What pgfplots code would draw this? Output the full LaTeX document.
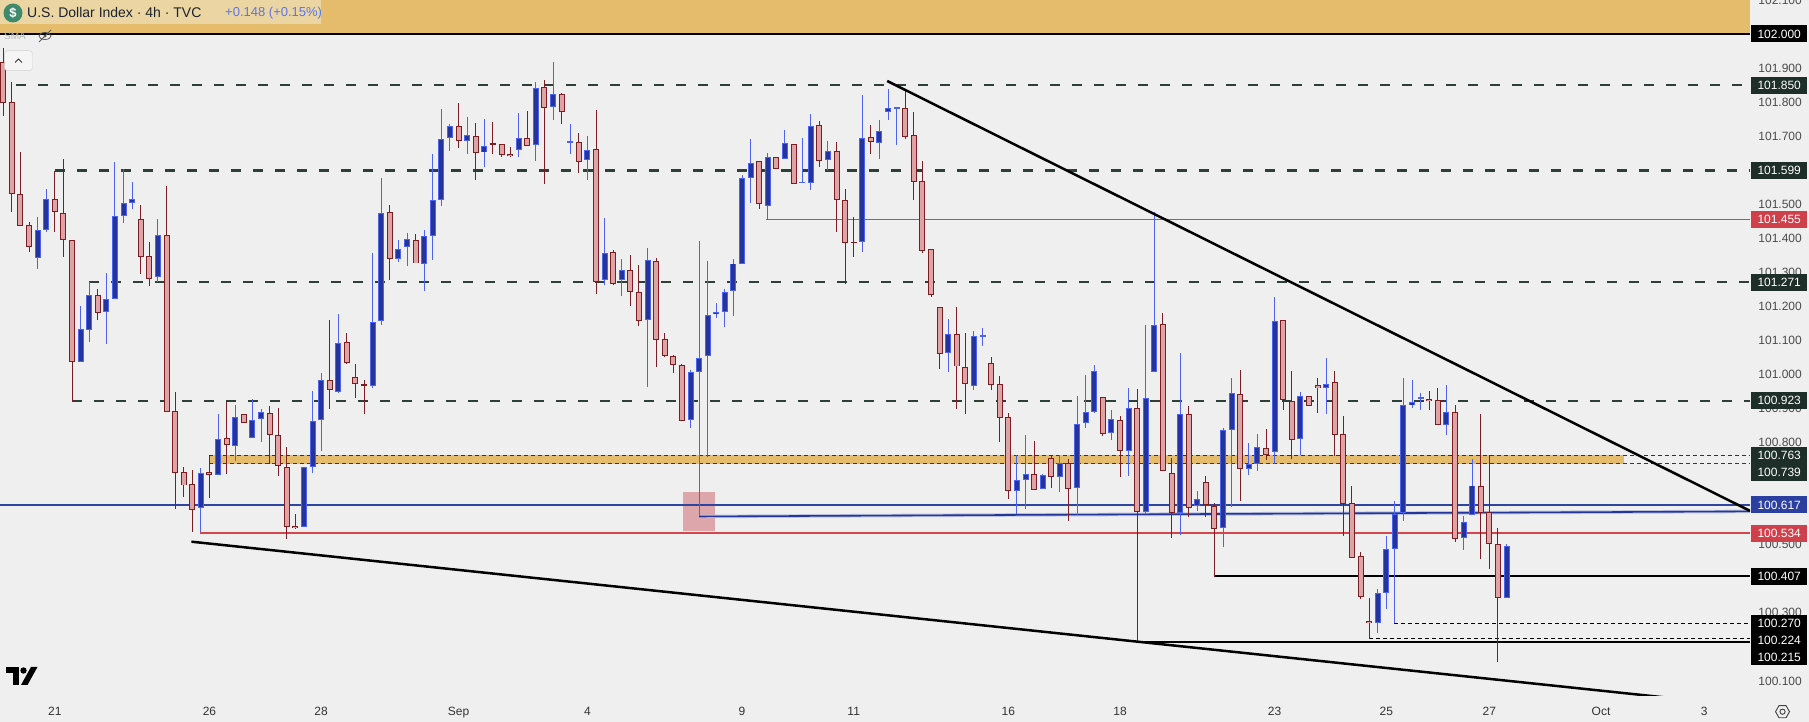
\documentclass[border=0pt]{standalone}
\usepackage{fontspec}
\setmainfont{Liberation Sans}
\usepackage{pgfplots}
\usepackage{pgfplotstable}
\pgfplotsset{compat=1.18}
\definecolor{bg}{HTML}{EFEFEF}
\definecolor{band}{HTML}{E5BC6B}
\definecolor{hdr}{HTML}{EBD6A3}
\definecolor{hdrgreen}{HTML}{3F8A6C}
\definecolor{hdrtext}{HTML}{1E222D}
\definecolor{chg}{HTML}{5C74EA}
\definecolor{bullfill}{HTML}{24349C}
\definecolor{bulledge}{HTML}{4A64F0}
\definecolor{bearfill}{HTML}{E0A3A5}
\definecolor{bearedge}{HTML}{7A1E22}
\definecolor{lvl}{HTML}{2E3F38}
\definecolor{lvlbox}{HTML}{1E2E28}
\definecolor{bline}{HTML}{2F46A0}
\definecolor{bline2}{HTML}{25369A}
\definecolor{bhalo}{HTML}{B9C1DE}
\definecolor{rline}{HTML}{D4454C}
\definecolor{rbox}{HTML}{D0404A}
\definecolor{bbox}{HTML}{2B3FA0}
\definecolor{pinkrect}{HTML}{DDA6AA}
\definecolor{ticktxt}{HTML}{4A4A4A}
\definecolor{timetxt}{HTML}{333333}

\pgfplotstableread{
i o h l c
4 101.344 101.462 101.310 101.425
5 101.425 101.544 101.418 101.516
9 101.038 101.201 101.038 101.135
10 101.132 101.272 101.094 101.234
12 101.185 101.297 101.090 101.223
13 101.223 101.624 101.223 101.467
14 101.467 101.605 101.446 101.505
15 101.505 101.565 101.486 101.516
18 101.287 101.456 101.272 101.411
23 100.607 100.725 100.536 100.710
25 100.707 100.885 100.704 100.812
27 100.792 100.910 100.746 100.877
29 100.815 100.927 100.815 100.867
30 100.870 100.898 100.803 100.890
35 100.551 100.728 100.551 100.728
36 100.728 100.953 100.710 100.863
37 100.868 101.004 100.774 100.984
39 100.950 101.178 100.946 101.092
43 100.967 101.356 100.959 101.156
44 101.159 101.576 101.146 101.476
46 101.341 101.394 101.331 101.371
47 101.376 101.415 101.319 101.399
49 101.325 101.423 101.245 101.408
50 101.408 101.647 101.336 101.513
51 101.513 101.781 101.494 101.692
52 101.695 101.735 101.657 101.731
54 101.687 101.755 101.647 101.703
56 101.652 101.749 101.609 101.672
60 101.660 101.767 101.638 101.695
62 101.675 101.858 101.626 101.843
64 101.786 101.917 101.747 101.823
66 101.683 101.735 101.647 101.685
68 101.631 101.699 101.570 101.660
70 101.280 101.459 101.264 101.358
72 101.279 101.338 101.231 101.308
75 101.159 101.371 100.964 101.335
80 100.868 101.012 100.842 101.009
81 101.007 101.393 100.583 101.050
82 101.056 101.333 100.759 101.175
83 101.176 101.211 101.165 101.183
84 101.185 101.250 101.140 101.244
85 101.247 101.338 101.173 101.327
86 101.325 101.587 101.325 101.580
87 101.580 101.693 101.504 101.623
89 101.496 101.650 101.454 101.639
91 101.634 101.719 101.634 101.681
93 101.563 101.695 101.561 101.565
94 101.564 101.764 101.543 101.731
96 101.631 101.686 101.597 101.658
100 101.390 101.820 101.360 101.695
102 101.681 101.747 101.632 101.717
103 101.772 101.838 101.747 101.783
104 101.784 101.786 101.674 101.786
110 101.062 101.162 101.007 101.117
113 100.969 101.128 100.954 101.114
114 101.113 101.138 101.083 101.115
118 100.660 100.763 100.590 100.690
119 100.693 100.823 100.604 100.710
121 100.663 100.708 100.663 100.705
123 100.699 100.763 100.655 100.740
125 100.666 100.938 100.587 100.855
126 100.858 100.999 100.843 100.890
127 100.893 101.029 100.887 101.011
129 100.828 100.895 100.807 100.869
131 100.775 100.961 100.702 100.902
133 100.596 101.146 100.590 100.931
134 101.008 101.476 101.008 101.146
137 100.593 101.064 100.530 100.884
139 100.613 100.657 100.599 100.634
142 100.551 100.843 100.493 100.837
143 100.837 100.990 100.610 100.946
145 100.722 100.799 100.705 100.737
146 100.737 100.825 100.716 100.787
148 100.772 101.228 100.737 101.158
151 100.811 100.949 100.763 100.937
154 100.961 101.049 100.884 100.972
160 100.269 100.369 100.241 100.357
161 100.360 100.525 100.310 100.487
162 100.490 100.628 100.269 100.593
163 100.596 100.990 100.569 100.911
164 100.911 100.983 100.902 100.919
165 100.930 100.946 100.896 100.932
168 100.852 100.970 100.822 100.890
170 100.519 100.584 100.484 100.566
171 100.587 100.752 100.587 100.675
175 100.346 100.502 100.346 100.496
}\bull

\pgfplotstableread{
i o h l c
0 101.917 101.959 101.759 101.797
1 101.801 101.858 101.477 101.532
2 101.532 101.653 101.437 101.437
3 101.441 101.449 101.361 101.376
6 101.516 101.598 101.418 101.478
7 101.475 101.632 101.346 101.396
8 101.396 101.396 100.923 101.038
11 101.234 101.251 101.159 101.182
16 101.458 101.499 101.295 101.346
17 101.350 101.388 101.259 101.282
19 101.411 101.553 100.890 100.890
20 100.895 100.948 100.604 100.713
21 100.715 100.728 100.641 100.675
22 100.678 100.719 100.536 100.601
24 100.715 100.761 100.638 100.707
26 100.815 100.923 100.707 100.795
28 100.883 100.883 100.857 100.857
31 100.887 100.908 100.736 100.824
32 100.824 100.903 100.701 100.733
33 100.728 100.787 100.516 100.551
34 100.554 100.591 100.546 100.548
38 100.984 101.161 100.898 100.954
40 101.095 101.121 101.031 101.034
41 100.994 101.031 100.931 100.974
42 100.972 100.984 100.885 100.967
45 101.476 101.499 101.277 101.338
48 101.397 101.412 101.327 101.327
53 101.731 101.796 101.665 101.687
55 101.701 101.738 101.570 101.652
57 101.679 101.741 101.647 101.677
58 101.678 101.678 101.638 101.646
59 101.649 101.667 101.640 101.643
61 101.695 101.773 101.672 101.672
63 101.845 101.864 101.560 101.783
65 101.826 101.828 101.736 101.771
67 101.685 101.708 101.592 101.626
69 101.663 101.776 101.236 101.272
71 101.361 101.365 101.262 101.267
73 101.308 101.350 101.202 101.242
74 101.242 101.321 101.143 101.159
76 101.335 101.341 101.022 101.103
77 101.106 101.123 101.050 101.056
78 101.056 101.056 101.005 101.029
79 101.029 101.032 100.866 100.866
88 101.626 101.626 101.486 101.499
90 101.639 101.639 101.604 101.604
92 101.678 101.678 101.561 101.561
95 101.734 101.744 101.609 101.626
97 101.658 101.682 101.418 101.513
98 101.513 101.544 101.267 101.387
99 101.390 101.462 101.346 101.388
101 101.698 101.732 101.647 101.684
105 101.783 101.833 101.691 101.698
106 101.702 101.770 101.512 101.564
107 101.570 101.626 101.356 101.365
108 101.368 101.370 101.227 101.233
109 101.197 101.199 101.015 101.059
111 101.120 101.197 100.898 101.025
112 101.022 101.122 100.883 100.972
115 101.034 101.052 100.954 100.969
116 100.972 100.997 100.801 100.872
117 100.875 100.887 100.634 100.657
120 100.710 100.805 100.660 100.663
122 100.755 100.760 100.666 100.699
124 100.740 100.752 100.569 100.666
128 100.934 100.934 100.818 100.825
130 100.866 100.878 100.699 100.775
132 100.902 100.958 100.215 100.596
135 101.149 101.181 100.716 100.716
136 100.713 100.755 100.519 100.593
138 100.884 100.908 100.581 100.610
140 100.684 100.703 100.581 100.616
141 100.616 100.622 100.406 100.548
144 100.943 101.014 100.628 100.722
147 100.787 100.840 100.749 100.766
149 101.161 101.161 100.896 100.925
150 100.925 101.010 100.752 100.808
152 100.937 100.937 100.908 100.908
153 100.969 100.990 100.887 100.961
155 100.978 101.010 100.760 100.822
156 100.825 100.878 100.525 100.619
157 100.622 100.672 100.460 100.463
158 100.466 100.478 100.340 100.346
159 100.275 100.343 100.222 100.269
166 100.928 100.952 100.896 100.922
167 100.925 100.961 100.852 100.852
169 100.890 100.911 100.507 100.519
172 100.672 100.884 100.457 100.593
173 100.596 100.763 100.428 100.502
174 100.502 100.549 100.157 100.346
}\bear

\tikzset{pbox/.style={anchor=west, minimum width=56pt, minimum height=17pt, inner sep=0pt, text=white, font=\fontsize{12}{12}\selectfont}}

\begin{document}
\begin{tikzpicture}[x=1pt,y=1pt]
\fill[bg] (0,0) rectangle (1809,722);
\useasboundingbox (0,0) rectangle (1809,722);
\begin{axis}[
  at={(0pt,26pt)}, anchor=south west,
  scale only axis, width=1750pt, height=696pt,
  xmin=-0.384, xmax=203.34, ymin=100.0558, ymax=102.0999,
  axis line style={draw=none}, major tick length=0pt, tick style={draw=none},
  xtick={6,24,37,53,68,86,99,117,130,148,161,173,186,198},
  xticklabels={21,26,28,Sep,4,9,11,16,18,23,25,27,Oct,3},
  xticklabel style={font=\fontsize{12}{14}\selectfont, text=timetxt, anchor=base, yshift=-20pt, inner sep=0pt},
  ytick={100.1,100.3,100.5,100.8,100.9,101.0,101.1,101.2,101.3,101.4,101.5,101.7,101.8,101.9,102.1},
  yticklabel pos=right,
  yticklabel style={font=\fontsize{12}{14}\selectfont, text=ticktxt, anchor=east, xshift=52pt, inner sep=0pt},
  y tick label style={/pgf/number format/.cd, fixed, fixed zerofill, precision=3, 1000 sep={}},
  /pgf/number format/assume math mode=true,
]
% top band
\addplot[fill=band, draw=none] coordinates {(-0.384,102.0) (203.34,102.0) (203.34,102.11) (-0.384,102.11)} --cycle;
\addplot[black, line width=2pt] coordinates {(-0.384,102.0) (203.34,102.0)};
% orange zone
\addplot[fill=band, draw=none] coordinates {(24,100.738) (188.7,100.738) (188.7,100.764) (24,100.764)} --cycle;
\addplot[black!80, line width=0.9pt, dash pattern=on 4pt off 3pt] coordinates {(24,100.763) (203.34,100.763)};
\addplot[black!70!band, line width=0.9pt, dash pattern=on 4pt off 3pt] coordinates {(24,100.739) (203.34,100.739)};
% dashed levels
\addplot[lvl, line width=2.2pt, dash pattern=on 10pt off 12pt] coordinates {(1.5,101.850) (203.34,101.850)};
\addplot[lvl, line width=2.2pt, dash pattern=on 10pt off 12pt] coordinates {(6,101.599) (203.34,101.599)};
\addplot[lvl, line width=2.2pt, dash pattern=on 10pt off 12pt] coordinates {(10,101.271) (203.34,101.271)};
\addplot[lvl, line width=2.2pt, dash pattern=on 10pt off 12pt] coordinates {(8,100.923) (203.34,100.923)};
% pink box
\addplot[fill=pinkrect, draw=none] coordinates {(79.1,100.541) (82.85,100.541) (82.85,100.654) (79.1,100.654)} --cycle;
% solid levels
\addplot[rline, line width=1pt] coordinates {(88.8,101.455) (203.34,101.455)};
\addplot[bline, line width=2.2pt] coordinates {(-0.384,100.617) (203.34,100.617)};
\addplot[bhalo, line width=3.5pt] coordinates {(81,100.583) (203.34,100.598)};
\addplot[bline2, line width=1.6pt] coordinates {(81,100.583) (203.34,100.598)};
\addplot[rline, line width=2pt] coordinates {(22.9,100.534) (203.34,100.534)};
\addplot[black, line width=2pt] coordinates {(140.9,100.407) (203.34,100.407)};
\addplot[black, line width=1pt, dash pattern=on 4pt off 3pt] coordinates {(161.9,100.270) (203.34,100.270)};
\addplot[black, line width=1pt, dash pattern=on 4pt off 3pt] coordinates {(159,100.224) (203.34,100.224)};
\addplot[black, line width=2pt] coordinates {(132,100.215) (203.34,100.215)};
% wicks
\addplot[draw=none, mark=none, forget plot, error bars/.cd, y dir=both, y explicit, error mark=none,
  error bar style={draw=bulledge, line width=1pt}]
  table[x=i, y=c, y error plus expr=\thisrow{h}-\thisrow{c}, y error minus expr=\thisrow{c}-\thisrow{l}] {\bull};
\addplot[draw=none, mark=none, forget plot, error bars/.cd, y dir=both, y explicit, error mark=none,
  error bar style={draw=bearedge, line width=1pt}]
  table[x=i, y=c, y error plus expr=\thisrow{h}-\thisrow{c}, y error minus expr=\thisrow{c}-\thisrow{l}] {\bear};
% bodies: border then fill
\addplot[draw=none, mark=none, forget plot, error bars/.cd, y dir=both, y explicit, error mark=none,
  error bar style={draw=bulledge, line width=6pt}]
  table[x=i, y expr=(\thisrow{o}+\thisrow{c})/2, y error expr={max(abs(\thisrow{o}-\thisrow{c})/2,0.0016)}] {\bull};
\addplot[draw=none, mark=none, forget plot, error bars/.cd, y dir=both, y explicit, error mark=none,
  error bar style={draw=bullfill, line width=4pt}]
  table[x=i, y expr=(\thisrow{o}+\thisrow{c})/2, y error expr={max(abs(\thisrow{o}-\thisrow{c})/2-0.0029,0)}] {\bull};
\addplot[draw=none, mark=none, forget plot, error bars/.cd, y dir=both, y explicit, error mark=none,
  error bar style={draw=bearedge, line width=6pt}]
  table[x=i, y expr=(\thisrow{o}+\thisrow{c})/2, y error expr={max(abs(\thisrow{o}-\thisrow{c})/2,0.0016)}] {\bear};
\addplot[draw=none, mark=none, forget plot, error bars/.cd, y dir=both, y explicit, error mark=none,
  error bar style={draw=bearfill, line width=4pt}]
  table[x=i, y expr=(\thisrow{o}+\thisrow{c})/2, y error expr={max(abs(\thisrow{o}-\thisrow{c})/2-0.0029,0)}] {\bear};
% trendlines
\addplot[black, line width=2.5pt] coordinates {(102.9,101.862) (203.34,100.5995)};
\addplot[black, line width=2.5pt] coordinates {(21.9,100.509) (193.3,100.052)};
\end{axis}
% header
\fill[hdr] (0,698) rectangle (321,722);
\fill[hdrgreen] (13,709) circle (9.5);
\node[text=white, font=\fontsize{13}{13}\selectfont\bfseries] at (13,709) {\$};
\node[anchor=west, inner sep=0pt, font=\fontsize{14}{16}\selectfont, text=hdrtext] at (27,709) {U.S. Dollar Index · 4h · TVC};
\node[anchor=west, inner sep=0pt, font=\fontsize{13}{16}\selectfont, text=chg] at (225,709) {+0.148 (+0.15\%)};
\node[anchor=west, inner sep=0pt, font=\fontsize{10}{10}\selectfont, text=black!28] at (4,686) {SMA};
\draw[black!65, line width=0.8pt] (45,686) ellipse (6 and 3.5);
\fill[black!65] (45,686) circle (1.6);
\draw[black!65, line width=0.9pt] (39,680) -- (51,692);
\draw[fill=black!4, draw=black!18, rounded corners=3pt] (4.6,651.3) rectangle (32.5,671.3);
\draw[black!80, line width=1pt] (15,659.5) -- (18.5,663) -- (22,659.5);
% TradingView logo
\fill[black] (6,49) rectangle (19,55);
\fill[black] (12.5,37) rectangle (19,49);
\fill[black] (23.5,51.5) circle (3.2);
\fill[black] (21,37) -- (27.5,37) -- (37.5,55) -- (31,55) -- cycle;
% gear
\draw[black!75, line width=0.9pt] (1782.5,10.3) circle (2.6);
\draw[black!75, line width=0.9pt] (1782.5,10.3) +(0:7) -- +(60:7) -- +(120:7) -- +(180:7) -- +(240:7) -- +(300:7) -- cycle;
% price boxes
\node[pbox, fill=black] at (1751,688) {102.000};
\node[pbox, fill=lvlbox] at (1751,636.9) {101.850};
\node[pbox, fill=lvlbox] at (1751,551.5) {101.599};
\node[pbox, fill=rbox] at (1751,502.4) {101.455};
\node[pbox, fill=lvlbox] at (1751,439.8) {101.271};
\node[pbox, fill=lvlbox] at (1751,321.3) {100.923};
\fill[lvlbox] (1751,241.3) rectangle (1807,274.7);
\node[pbox] at (1751,266.3) {100.763};
\node[pbox] at (1751,249.3) {100.739};
\node[pbox, fill=bbox] at (1751,217.1) {100.617};
\node[pbox, fill=rbox] at (1751,188.8) {100.534};
\node[pbox, fill=black] at (1751,145.6) {100.407};
\fill[black] (1751,57) rectangle (1807,107);
\node[pbox] at (1751,99) {100.270};
\node[pbox] at (1751,81.3) {100.224};
\node[pbox] at (1751,64.3) {100.215};
\end{tikzpicture}
\end{document}
